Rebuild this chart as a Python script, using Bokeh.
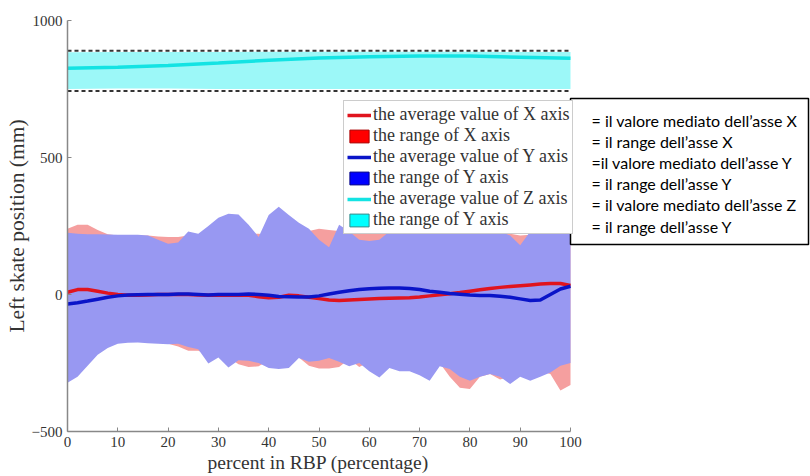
from bokeh.plotting import figure
from bokeh.models import Range1d, Legend, LegendItem, Label, FixedTicker, BoxAnnotation, Title
from bokeh.embed import file_html
from bokeh.resources import INLINE

# ---------------- data ----------------
pct = [0, 2, 4, 6, 8, 10, 12, 14, 16, 18, 20, 22, 24, 26, 28, 30, 32, 34, 36, 38, 40,
       42, 44, 46, 48, 50, 52, 54, 56, 58, 60, 62, 64, 66, 68, 70, 72, 74, 76, 78, 80,
       82, 84, 86, 88, 90, 92, 94, 96, 98, 100]

x_avg = [8, 18, 18, 12, 5, 0, -3, -3, -2, 0, 0, 0, 0, -2, -3, -3, -3, -2, -3, -8, -12,
         -10, -3, -5, -10, -15, -20, -22, -20, -18, -16, -15, -14, -13, -12, -9, -5, -1, 3, 7, 12,
         17, 22, 26, 29, 32, 35, 38, 40, 40, 33]
x_hi = [240, 255, 255, 235, 220, 215, 215, 215, 215, 212, 210, 210, 215, 218, 220, 220, 220, 220, 222, 222, 218,
        218, 220, 225, 232, 240, 235, 232, 225, 228, 226, 226, 228, 230, 232, 228, 230, 232, 232, 230, 228,
        228, 230, 228, 222, 215, 218, 225, 228, 230, 232]
x_lo = [-300, -270, -220, -200, -180, -170, -170, -170, -172, -175, -180, -190, -205, -205, -220, -220, -230, -255, -265, -262, -240,
        -250, -250, -230, -260, -270, -270, -265, -235, -265, -245, -260, -240, -250, -245, -260, -270, -250, -300, -340, -345,
        -300, -290, -310, -300, -290, -300, -280, -290, -350, -330]

y_avg = [-35, -30, -24, -17, -10, -5, -2, -1, 0, 0, 0, 2, 2, 0, -2, 0, 0, 0, 2, 0, -3,
         -7, -8, -9, -9, -5, 2, 8, 14, 18, 21, 23, 24, 24, 22, 18, 12, 8, 4, 1, -2,
         -4, -4, -6, -10, -16, -22, -20, 0, 20, 30]
y_hi = [225, 222, 220, 220, 219, 218, 218, 218, 215, 200, 185, 190, 230, 222, 250, 280, 295, 292, 255, 210, 290,
        320, 290, 262, 240, 200, 172, 255, 230, 200, 195, 200, 230, 240, 250, 235, 240, 235, 245, 240, 230,
        235, 240, 230, 215, 180, 230, 240, 235, 240, 240]
y_lo = [-322, -300, -260, -220, -195, -180, -176, -175, -178, -180, -182, -180, -192, -200, -252, -230, -266, -240, -242, -250, -268,
        -272, -268, -232, -245, -242, -232, -245, -262, -250, -280, -303, -268, -280, -280, -295, -315, -262, -272, -300, -315,
        -300, -290, -300, -327, -300, -315, -300, -285, -260, -250]

pct_z = [0, 10, 20, 30, 40, 50, 60, 70, 80, 90, 100]
z_avg = [826, 829, 836, 845, 855, 863, 868, 870, 870, 866, 862]
z_hi = [884, 885, 885, 885, 886, 886, 886, 886, 886, 885, 885]
z_lo = [750, 752, 752, 750, 750, 750, 750, 750, 750, 750, 750]
z_limits = [890, 743]

y_ticks = [-500, 0, 500, 1000]
x_ticks = [0, 10, 20, 30, 40, 50, 60, 70, 80, 90, 100]

x_title = "percent in RBP (percentage)"
y_title = "Left skate position (mm)"
legend_labels = ["the average value of X axis", "the range of X axis",
                 "the average value of Y axis", "the range of Y axis",
                 "the average value of Z axis", "the range of Y axis"]
note_lines = ["= il valore mediato dell\u2019asse X",
              "= il range dell\u2019asse X",
              "=il valore mediato dell\u2019asse Y",
              "= il range dell\u2019asse Y",
              "= il valore mediato dell\u2019asse Z",
              "= il range dell\u2019asse Y"]

SERIF = "Liberation Serif"

# ---------------- layout constants (pixels) ----------------
W, H = 810, 476
FRAME_L, FRAME_T, FRAME_B = 67, 20, 431
X_AT_100 = 570          # pixel where x = 100 sits; frame continues to the right edge
X_MAX = 100 * (W - FRAME_L) / (X_AT_100 - FRAME_L)
Y_MIN, Y_MAX = -500, 1000


def px_x(px):
    return (px - FRAME_L) * 100 / (X_AT_100 - FRAME_L)


def px_y(py):
    return Y_MAX - (py - FRAME_T) * (Y_MAX - Y_MIN) / (FRAME_B - FRAME_T)


p = figure(width=W, height=H, output_backend="svg", toolbar_location=None,
           x_range=Range1d(0, X_MAX), y_range=Range1d(Y_MIN, Y_MAX),
           min_border_left=FRAME_L, min_border_right=0,
           min_border_top=FRAME_T, min_border_bottom=H - FRAME_B)
p.outline_line_color = None
p.xgrid.visible = False
p.ygrid.visible = False
p.background_fill_color = "white"
p.border_fill_color = "white"

# bands
p.varea(x=pct, y1=x_lo, y2=x_hi, fill_color="#f59f9f")
p.varea(x=pct, y1=y_lo, y2=y_hi, fill_color="#9898f2")
p.varea(x=pct_z, y1=z_lo, y2=z_hi, fill_color="#9cf8f8")

for v in z_limits:
    p.segment(x0=pct_z[0], x1=pct_z[-1], y0=v, y1=v, line_color="#333333",
              line_width=2, line_dash="4 3")

rx = p.line(pct, x_avg, line_color="#e0141e", line_width=3.5)
ry = p.line(pct, y_avg, line_color="#0a14c8", line_width=3.5)
rz = p.line(pct_z, z_avg, line_color="#14e3e3", line_width=3.5)

# legend swatches (drawn outside the visible frame, used only for the legend)
sx = p.quad(left=[-30], right=[-20], bottom=[-2000], top=[-1900],
            fill_color="#ff0000", line_color="#aa0000", line_width=1)
sy = p.quad(left=[-30], right=[-20], bottom=[-2000], top=[-1900],
            fill_color="#0000ff", line_color="#000088", line_width=1)
sz = p.quad(left=[-30], right=[-20], bottom=[-2000], top=[-1900],
            fill_color="#00ffff", line_color="#338888", line_width=1)

legend = Legend(items=[LegendItem(label=legend_labels[0], renderers=[rx]),
                       LegendItem(label=legend_labels[1], renderers=[sx]),
                       LegendItem(label=legend_labels[2], renderers=[ry]),
                       LegendItem(label=legend_labels[3], renderers=[sy]),
                       LegendItem(label=legend_labels[4], renderers=[rz]),
                       LegendItem(label=legend_labels[5], renderers=[sz])],
                location=(343 - FRAME_L, FRAME_B - 234), padding=3, spacing=0, margin=0,
                label_height=21, glyph_height=16, glyph_width=24, label_standoff=2,
                label_text_font=SERIF, label_text_font_size="18px", label_text_color="#333333",
                border_line_color="#999999", border_line_width=1,
                background_fill_color="white", background_fill_alpha=1.0)
p.add_layout(legend)

# axes
for ax in (p.xaxis[0], p.yaxis[0]):
    ax.axis_line_color = "#888888"
    ax.axis_line_width = 1.5
    ax.major_tick_line_color = "#888888"
    ax.major_tick_in = 4
    ax.major_tick_out = 0
    ax.minor_tick_line_color = None
    ax.major_label_text_font = SERIF
    ax.major_label_text_font_size = "15px"
    ax.major_label_text_color = "#333333"

p.xaxis.bounds = (0, 100)
p.xaxis.ticker = FixedTicker(ticks=x_ticks)
p.yaxis.ticker = FixedTicker(ticks=y_ticks)
p.xaxis.major_label_standoff = 5
p.yaxis.major_label_standoff = 5

# axis titles (as Titles so that they can be positioned like the reference)
p.add_layout(Title(text=x_title, align="left", offset=207 - FRAME_L, standoff=0,
                   text_font=SERIF, text_font_size="19.5px", text_font_style="normal",
                   text_color="#333333"), "below")
p.add_layout(Title(text=y_title, align="center", offset=-10, standoff=0,
                   text_font=SERIF, text_font_size="21.5px", text_font_style="normal",
                   text_color="#333333"), "left")

# Italian note box to the right of the plot
p.add_layout(BoxAnnotation(left=px_x(570), right=px_x(808), top=px_y(98), bottom=px_y(244),
                           fill_color="white", fill_alpha=1.0,
                           line_color="black", line_width=1.5, line_alpha=1.0))
for i, line in enumerate(note_lines):
    p.add_layout(Label(x=591 - FRAME_L, y=FRAME_B - (120 + 21.1 * i),
                       x_units="screen", y_units="screen",
                       text=line, text_align="left", text_baseline="middle",
                       text_font="Lato", text_font_size="16px", text_color="black"))

open("out.html", "w").write(file_html(p, INLINE))
